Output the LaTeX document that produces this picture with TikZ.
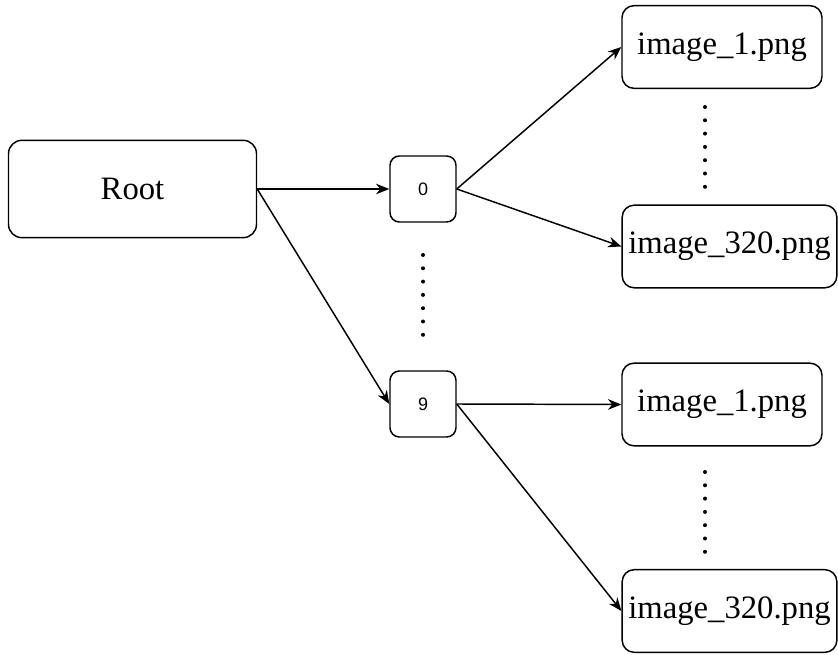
\documentclass[tikz,border=0pt]{standalone}
\usepackage{fontspec}
\setmainfont{Liberation Serif}
\newfontfamily\digitfont{Liberation Sans}
\usepackage{tikz}
\usetikzlibrary{arrows.meta}
\tikzstyle{bigbox}=[draw, line width=1.1pt, rounded corners=10pt, inner sep=0pt,
  minimum width=186pt, minimum height=73pt, font=\fontsize{24.5}{29}\selectfont]
\tikzstyle{digitbox}=[draw, line width=1.1pt, rounded corners=7pt, inner sep=0pt,
  minimum size=49.5pt, font=\digitfont\fontsize{13.5}{16}\selectfont]
\tikzstyle{filebox}=[draw, line width=1.1pt, rounded corners=9pt, inner sep=0pt,
  minimum height=62pt, font=\fontsize{24.5}{29}\selectfont]
\tikzstyle{link}=[line width=1.1pt, -{Stealth[length=10pt, width=8pt]}]
\newcommand{\filenode}{\node[filebox]}

\begin{document}
\begin{tikzpicture}[x=0.75pt, y=-0.75pt]
	\useasboundingbox (0,0) rectangle (838,655);
	%% the root and the two class folders
	\node[bigbox] (root) at (132.5,189) {Root};
	\node[digitbox] (n0) at (423,189) {0};
	\node[digitbox] (n9) at (423,404) {9};
	%% the files in each folder
	\filenode[minimum width=150pt] (a1) at (722,47) {image\_1.png};
	\filenode[minimum width=161pt] (a320) at (729.5,246.5) {image\_320.png};
	\filenode[minimum width=150pt] (b1) at (722,404.5) {image\_1.png};
	\filenode[minimum width=161pt] (b320) at (729.5,611) {image\_320.png};
	\path[link]
		(root.east) edge (n0.west)
		(root.east) edge (n9.west)
		(n0.east) edge (a1.west)
		(n0.east) edge (a320.west)
		(n9.east) edge (b1.west)
		(n9.east) edge (b320.west)
	;
	% rows of dots for the items left out
	\foreach \y in {0,...,6} {
		\fill (423,255+13.3*\y) circle (2);
		\fill (705,107+13.3*\y) circle (2);
		\fill (705,472+13.3*\y) circle (2);
	}
\end{tikzpicture}
\end{document}
